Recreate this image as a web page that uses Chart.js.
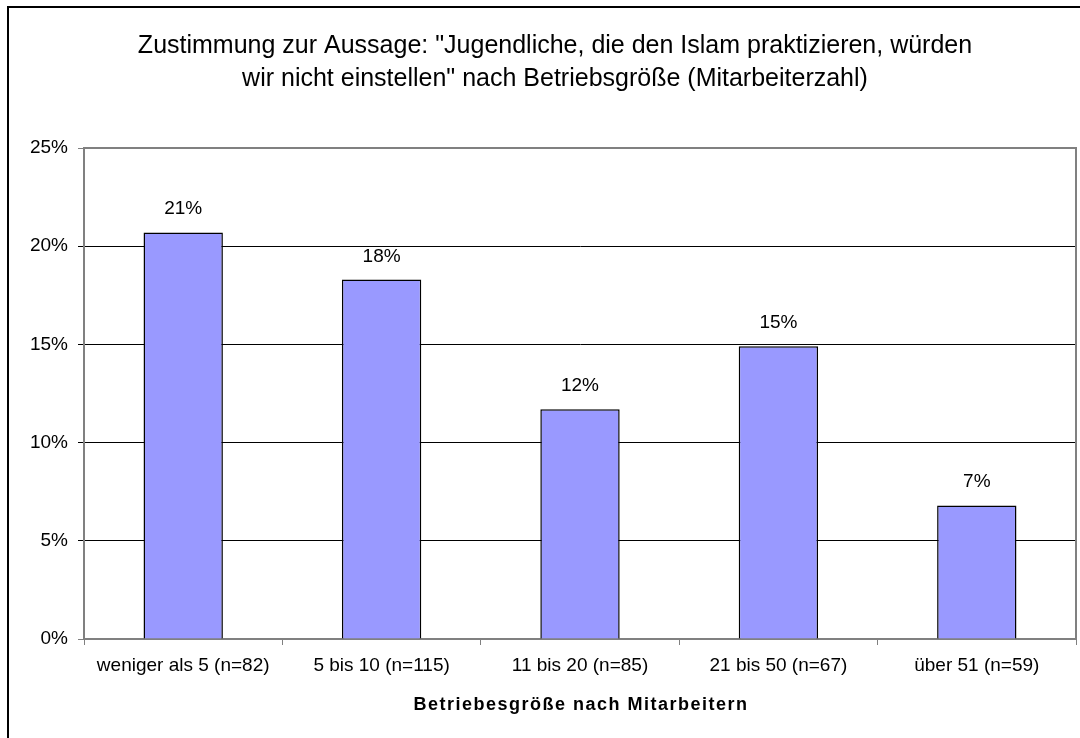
<!DOCTYPE html>
<html>
<head>
<meta charset="utf-8">
<script src="https://cdn.jsdelivr.net/npm/chart.js@4/dist/chart.umd.min.js"></script>
<style>
    html, body { margin: 0; padding: 0; background: #fff; }
    #box { width: 1080px; height: 738px; position: relative; }
</style>
</head>
<body>
<div id="box"><canvas id="myChart"></canvas></div>
<script>

const categories = [
    "weniger als 5 (n=82)",
    "5 bis 10 (n=115)",
    "11 bis 20 (n=85)",
    "21 bis 50 (n=67)",
    "über 51 (n=59)"
]

const values = [20.7, 18.3, 11.7, 14.9, 6.8]

const valueLabels = ["21%", "18%", "12%", "15%", "7%"]

const titleLines = [
    "Zustimmung zur Aussage: \"Jugendliche, die den Islam praktizieren, würden",
    "wir nicht einstellen\" nach Betriebsgröße (Mitarbeiterzahl)"
]

const xTitle = "Betriebesgröße nach Mitarbeitern"

const FONT = "'Liberation Sans', Arial, sans-serif"

// rahmen, titel, werte ueber den balken
const decoPlugin = {
    id: "deco",
    afterDatasetsDraw(chart) {
        const ctx = chart.ctx
        const area = chart.chartArea

        // grauer rand oben / rechts
        ctx.save()
        ctx.strokeStyle = "#808080"
        ctx.lineWidth = 2
        ctx.beginPath()
        ctx.moveTo(area.left, area.top)
        ctx.lineTo(area.right, area.top)
        ctx.lineTo(area.right, area.bottom)
        ctx.stroke()

        // werte
        ctx.fillStyle = "#000"
        ctx.font = "19px " + FONT
        ctx.textAlign = "center"
        ctx.textBaseline = "alphabetic"
        chart.getDatasetMeta(0).data.forEach((bar, i) => {
            ctx.fillText(valueLabels[i], bar.x, bar.y - 18)
        })
        ctx.restore()
    },
    afterDraw(chart) {
        const ctx = chart.ctx
        ctx.save()

        // aeusserer rahmen
        ctx.strokeStyle = "#000"
        ctx.lineWidth = 2
        ctx.strokeRect(8, 7, 1200, 1000)

        // titel
        ctx.fillStyle = "#000"
        ctx.textAlign = "center"
        ctx.textBaseline = "middle"
        ctx.font = "25px " + FONT
        ctx.fillText(titleLines[0], 555, 46)
        ctx.fillText(titleLines[1], 555, 79)

        // achsentitel
        ctx.font = "bold 18px " + FONT
        ctx.letterSpacing = "1.5px"
        ctx.fillText(xTitle, 581, 705)
        ctx.restore()
    }
}

new Chart(
    document.getElementById("myChart"),
    {
        type: "bar",

        data: {
            labels: categories,

            datasets: [{
                data: values,
                backgroundColor: "#9999FF",
                borderColor: "#000",
                borderWidth: 1.5,
                barPercentage: 0.4,
                categoryPercentage: 1
            }]
        },

        options: {
            responsive: true,
            maintainAspectRatio: false,
            animation: false,
            layout: {
                padding: { top: 148, left: 0, right: 4, bottom: 0 }
            },
            plugins: {
                legend: { display: false },
                title: { display: false },
                tooltip: { enabled: false }
            },
            scales: {
                x: {
                    afterFit(scale) { scale.height = 99 },
                    grid: {
                        offset: true,
                        drawOnChartArea: false,
                        color: "#808080",
                        tickLength: 6
                    },
                    border: { color: "#808080", width: 2 },
                    ticks: {
                        color: "#000",
                        font: { size: 19, family: FONT },
                        padding: 9,
                        maxRotation: 0
                    }
                },
                y: {
                    min: 0,
                    max: 25,
                    afterFit(scale) { scale.width = 84 },
                    grid: {
                        color: ctx => (ctx.tick && (ctx.tick.value === 0 || ctx.tick.value === 25)) ? "#808080" : "#000",
                        tickLength: 6
                    },
                    border: { color: "#808080", width: 2 },
                    ticks: {
                        stepSize: 5,
                        color: "#000",
                        font: { size: 19, family: FONT },
                        padding: 10,
                        callback: v => v + "%"
                    }
                }
            }
        },

        plugins: [decoPlugin]
    }
)
</script>
</body>
</html>
